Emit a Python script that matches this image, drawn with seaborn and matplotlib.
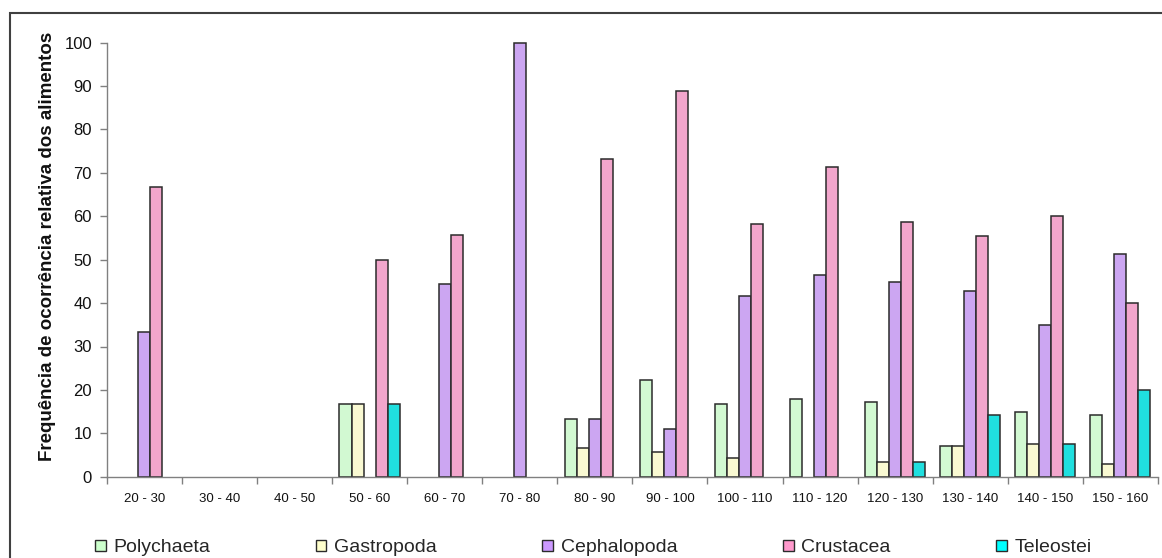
import matplotlib
matplotlib.use("Agg")
import matplotlib.pyplot as plt
from matplotlib.patches import Patch, Rectangle
from matplotlib.ticker import FixedLocator
import seaborn as sns
import pandas as pd

# Length classes (cm) and relative frequency of occurrence (%) per food item
classes = ["20 - 30", "30 - 40", "40 - 50", "50 - 60", "60 - 70", "70 - 80", "80 - 90",
           "90 - 100", "100 - 110", "110 - 120", "120 - 130", "130 - 140", "140 - 150", "150 - 160"]
polychaeta = [0, 0, 0, 16.7, 0, 0, 13.3, 22.2, 16.7, 17.9, 17.2, 7.1, 15.0, 14.3]
gastropoda = [0, 0, 0, 16.7, 0, 0, 6.7, 5.6, 4.2, 0, 3.4, 7.1, 7.5, 2.9]
cephalopoda = [33.3, 0, 0, 0, 44.4, 100, 13.3, 11.1, 41.7, 46.4, 44.8, 42.9, 35.0, 51.4]
crustacea = [66.7, 0, 0, 50.0, 55.6, 0, 73.3, 88.9, 58.3, 71.4, 58.6, 55.4, 60.0, 40.0]
teleostei = [0, 0, 0, 16.7, 0, 0, 0, 0, 0, 0, 3.4, 14.3, 7.5, 20.0]

groups = ["Polychaeta", "Gastropoda", "Cephalopoda", "Crustacea", "Teleostei"]
colors = ["#CCFFCC", "#FFFFCC", "#CC99FF", "#FF99CC", "#00FFFF"]
series = [polychaeta, gastropoda, cephalopoda, crustacea, teleostei]

rows = []
for name, vals in zip(groups, series):
    for cls, v in zip(classes, vals):
        if v > 0:
            rows.append({"classe": cls, "item": name, "freq": v})
df = pd.DataFrame(rows)

sns.set_style("white")
plt.rcParams["font.family"] = ["Liberation Sans", "DejaVu Sans"]

W, H = 1162, 558
fig = plt.figure(figsize=(W / 100, H / 100), dpi=100)
ax = fig.add_axes([106.7 / W, 1 - 476.7 / H, (1158 - 106.7) / W, (476.7 - 42.7) / H])

sns.barplot(data=df, x="classe", y="freq", hue="item", order=classes, hue_order=groups,
            palette=dict(zip(groups, colors)), width=0.8, dodge=True,
            edgecolor="#2b2b2b", linewidth=1.1, legend=False, ax=ax)
for bar in ax.patches:
    bar.set_clip_on(False)

ax.set_xlim(-0.5, len(classes) - 0.5)
ax.set_ylim(0, 100)
ax.set_yticks(range(0, 101, 10))
ax.tick_params(axis="y", labelsize=12, length=5, width=1, color="#808080",
               direction="out", left=True, pad=5.5, labelcolor="#111111")
ax.tick_params(axis="x", which="major", labelsize=9.5, length=0, pad=12, labelcolor="#111111")
ax.xaxis.set_minor_locator(FixedLocator([i - 0.5 for i in range(len(classes) + 1)]))
ax.tick_params(axis="x", which="minor", length=5, width=1, color="#808080",
               direction="out", bottom=True)

for side in ["top", "right"]:
    ax.spines[side].set_visible(False)
for side in ["left", "bottom"]:
    ax.spines[side].set_color("#808080")
    ax.spines[side].set_linewidth(1)

ax.set_xlabel("")
ax.set_ylabel("Frequência de ocorrência relativa dos alimentos", fontsize=13.5,
              fontweight="bold", color="#111111")
ax.yaxis.set_label_coords(-0.048, 0.53)

handles = [Patch(facecolor=c, edgecolor="#2b2b2b", linewidth=1) for c in colors]
fig.legend(handles, groups, ncol=5, loc="center left",
           bbox_to_anchor=(95 / W, 1 - 548 / H), frameon=False, fontsize=14,
           handlelength=0.55, handleheight=0.55, handletextpad=0.4,
           columnspacing=5.42, borderpad=0, borderaxespad=0)

# Outer chart-area border
fig.add_artist(Rectangle((10 / W, -0.1), 1.2, 1.1 - 12.7 / H, transform=fig.transFigure,
                         fill=False, edgecolor="#404040", linewidth=1.5))

fig.savefig("out.png", dpi=100, facecolor="white")
